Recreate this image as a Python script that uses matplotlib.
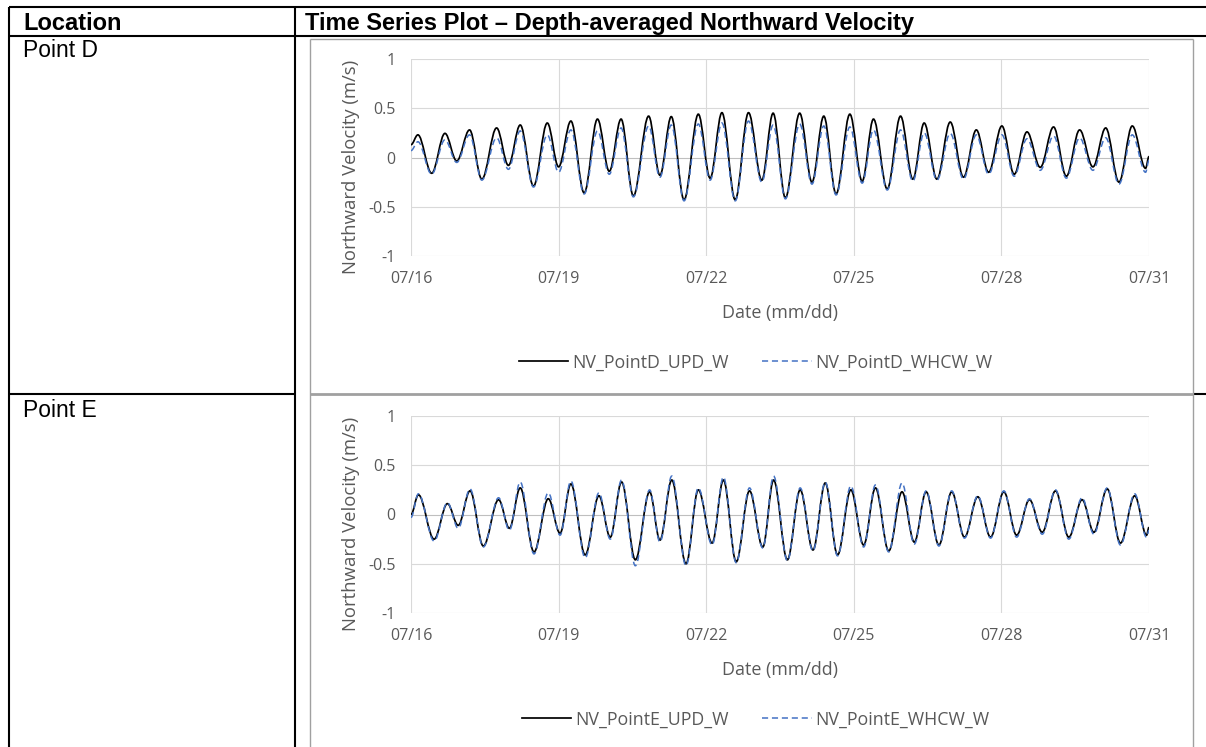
import matplotlib
matplotlib.use('Agg')
import matplotlib.pyplot as plt
from matplotlib.path import Path
from matplotlib.patches import PathPatch
from matplotlib.lines import Line2D

# ---- data (days since 07/16, depth-averaged northward velocity at turning points) ----
tick_days = [0, 3, 6, 9, 12, 15]
tick_labels = ['07/16', '07/19', '07/22', '07/25', '07/28', '07/31']
y_ticks = [-1, -0.5, 0, 0.5, 1]
y_labels = ['-1', '-0.5', '0', '0.5', '1']

d_time = [0.0, 0.14, 0.42, 0.69, 0.93, 1.19, 1.44, 1.74, 1.98, 2.22, 2.49, 2.77, 3.0, 3.25, 3.52,
          3.79, 4.03, 4.27, 4.52, 4.83, 5.06, 5.29, 5.55, 5.84, 6.08, 6.32, 6.59, 6.86, 7.13, 7.36,
          7.61, 7.90, 8.15, 8.39, 8.64, 8.92, 9.17, 9.40, 9.68, 9.95, 10.2, 10.43, 10.69, 10.96,
          11.23, 11.49, 11.74, 12.01, 12.26, 12.52, 12.79, 13.06, 13.32, 13.59, 13.86, 14.12,
          14.39, 14.66, 14.93, 15.0]
d_upd = [0.13, 0.23, -0.16, 0.245, -0.035, 0.28, -0.22, 0.30, -0.08, 0.33, -0.29, 0.35, -0.095,
         0.37, -0.36, 0.39, -0.14, 0.39, -0.39, 0.42, -0.18, 0.415, -0.43, 0.44, -0.21, 0.455,
         -0.43, 0.455, -0.23, 0.45, -0.41, 0.45, -0.25, 0.42, -0.37, 0.44, -0.24, 0.39, -0.32,
         0.42, -0.22, 0.35, -0.22, 0.36, -0.20, 0.28, -0.15, 0.32, -0.17, 0.26, -0.10, 0.31,
         -0.19, 0.28, -0.095, 0.30, -0.25, 0.32, -0.11, 0.01]
d_whcw = [0.07, 0.16, -0.17, 0.18, -0.05, 0.23, -0.23, 0.20, -0.12, 0.27, -0.30, 0.23, -0.15,
          0.28, -0.37, 0.27, -0.17, 0.30, -0.40, 0.32, -0.20, 0.33, -0.44, 0.34, -0.23, 0.35,
          -0.44, 0.37, -0.25, 0.33, -0.42, 0.34, -0.27, 0.32, -0.38, 0.31, -0.26, 0.28, -0.33,
          0.28, -0.24, 0.25, -0.23, 0.245, -0.22, 0.23, -0.17, 0.23, -0.19, 0.19, -0.13, 0.22,
          -0.21, 0.20, -0.13, 0.20, -0.27, 0.23, -0.15, -0.03]

e_time = [0.0, 0.15, 0.47, 0.74, 0.96, 1.2, 1.47, 1.78, 2.0, 2.22, 2.50, 2.79, 3.03, 3.25, 3.54,
          3.82, 4.05, 4.28, 4.56, 4.85, 5.06, 5.30, 5.59, 5.84, 6.12, 6.35, 6.61, 6.88, 7.15, 7.37,
          7.65, 7.91, 8.17, 8.42, 8.67, 8.94, 9.20, 9.44, 9.71, 9.98, 10.23, 10.47, 10.73, 10.99,
          11.25, 11.52, 11.78, 12.05, 12.31, 12.57, 12.83, 13.10, 13.37, 13.64, 13.88, 14.15,
          14.42, 14.71, 14.95, 15.0]
e_upd = [0.0, 0.20, -0.25, 0.11, -0.11, 0.24, -0.32, 0.15, -0.14, 0.27, -0.38, 0.16, -0.19,
         0.31, -0.41, 0.19, -0.23, 0.33, -0.46, 0.23, -0.26, 0.35, -0.50, 0.25, -0.29, 0.35,
         -0.48, 0.24, -0.33, 0.35, -0.46, 0.25, -0.36, 0.32, -0.41, 0.25, -0.31, 0.27, -0.37,
         0.23, -0.28, 0.23, -0.31, 0.23, -0.23, 0.18, -0.23, 0.23, -0.21, 0.15, -0.18, 0.24,
         -0.23, 0.15, -0.18, 0.26, -0.29, 0.19, -0.21, -0.13]
e_whcw = [-0.03, 0.21, -0.27, 0.12, -0.14, 0.26, -0.33, 0.17, -0.16, 0.33, -0.40, 0.22, -0.21,
          0.34, -0.44, 0.22, -0.25, 0.35, -0.52, 0.25, -0.28, 0.39, -0.52, 0.27, -0.31, 0.38,
          -0.49, 0.27, -0.34, 0.39, -0.47, 0.27, -0.37, 0.33, -0.42, 0.29, -0.33, 0.30, -0.38,
          0.32, -0.30, 0.24, -0.32, 0.24, -0.24, 0.19, -0.24, 0.24, -0.23, 0.16, -0.20, 0.25,
          -0.25, 0.17, -0.20, 0.27, -0.31, 0.21, -0.23, -0.16]

locations = ['Point D', 'Point E']
series_names = [('NV_PointD_UPD_W', 'NV_PointD_WHCW_W'), ('NV_PointE_UPD_W', 'NV_PointE_WHCW_W')]

BLUE = '#4472C4'
GREY_TXT = '#595959'
W, H = 1206, 747
DASH = (0, (4, 2.5))


def smooth_path(t, v, k=0.36):
    # smoothed line through the turning points (like Excel's smoothed line)
    verts = [(t[0], v[0])]
    codes = [Path.MOVETO]
    for i in range(len(t) - 1):
        dt = t[i + 1] - t[i]
        verts += [(t[i] + k * dt, v[i]), (t[i + 1] - k * dt, v[i + 1]), (t[i + 1], v[i + 1])]
        codes += [Path.CURVE4] * 3
    return Path(verts, codes)


def make_chart(ax, t, upd, whcw, names):
    for y in y_ticks:
        ax.axhline(y, color='#bfbfbf' if y == 0 else '#d9d9d9', lw=0.8, zorder=1)
    for x in tick_days:
        ax.axvline(x, color='#d9d9d9', lw=0.8, zorder=1)
    ax.add_patch(PathPatch(smooth_path(t, upd), fill=False, edgecolor='black', lw=1.25, zorder=3))
    ax.add_patch(PathPatch(smooth_path(t, whcw), fill=False, edgecolor=BLUE, lw=1.1,
                           linestyle=DASH, zorder=4))
    ax.set_xlim(0, 15)
    ax.set_ylim(-1, 1)
    ax.set_xticks(tick_days)
    ax.set_xticklabels(tick_labels)
    ax.set_yticks(y_ticks)
    ax.set_yticklabels(y_labels)
    ax.tick_params(length=0, colors=GREY_TXT, labelsize=11.5)
    ax.tick_params(axis='y', pad=11)
    ax.tick_params(axis='x', pad=11)
    for s in ax.spines.values():
        s.set_visible(False)
    ax.set_ylabel('Northward Velocity (m/s)', color=GREY_TXT, fontsize=13.3)
    ax.yaxis.set_label_coords(-0.069, 0.45)
    ax.text(0.5, -0.29, 'Date (mm/dd)', transform=ax.transAxes, ha='center', va='center',
            color=GREY_TXT, fontsize=12.9)
    handles = [Line2D([], [], color='black', lw=1.25),
               Line2D([], [], color=BLUE, lw=1.1, linestyle=DASH)]
    ax.legend(handles, list(names), loc='center', bbox_to_anchor=(0.467, -0.54), ncol=2,
              frameon=False, fontsize=12.8, handlelength=2.8, handletextpad=0.2,
              columnspacing=1.9, labelcolor=GREY_TXT)


plt.rcParams['font.family'] = ['Open Sans', 'DejaVu Sans']
fig = plt.figure(figsize=(W / 100, H / 100), dpi=100)

# table drawn in pixel coordinates
bg = fig.add_axes([0, 0, 1, 1], zorder=-1)
bg.set_xlim(0, W)
bg.set_ylim(H, 0)
bg.axis('off')
lk = dict(color='black', lw=1.5, solid_capstyle='butt')
bg.plot([9, W], [7, 7], **lk)
bg.plot([9, W], [36, 36], **lk)
bg.plot([9, 9], [7, H], **lk)
bg.plot([295, 295], [7, H], **lk)
bg.plot([9, 295], [394, 394], **lk)
bg.plot([1194, W], [394, 394], **lk)
gk = dict(color='#a0a0a0', lw=1.0, solid_capstyle='butt')
bg.plot([309.5, 1193], [38.5, 38.5], **gk)
bg.plot([309.5, 309.5], [38.5, H], **gk)
bg.plot([1193, 1193], [38.5, H], **gk)
bg.plot([309.5, 1193], [394, 394], color='#a0a0a0', lw=2.0, solid_capstyle='butt')

hdr = ['Liberation Sans', 'DejaVu Sans']
fig.text(23 / W, 1 - 30 / H, 'Location', family=hdr, weight='bold', fontsize=17, va='baseline')
fig.text(305 / W, 1 - 30 / H, 'Time Series Plot \u2013 Depth-averaged Northward Velocity',
         family=hdr, weight='bold', fontsize=17, va='baseline')
fig.text(23 / W, 1 - 56.7 / H, locations[0], family=hdr, fontsize=16.5, va='baseline')
fig.text(23 / W, 1 - 416.7 / H, locations[1], family=hdr, fontsize=16.5, va='baseline')

ax_d = fig.add_axes([411 / W, 1 - 256 / H, 738 / W, 197 / H])
make_chart(ax_d, d_time, d_upd, d_whcw, series_names[0])
ax_e = fig.add_axes([411 / W, 1 - 613 / H, 738 / W, 197 / H])
make_chart(ax_e, e_time, e_upd, e_whcw, series_names[1])

fig.savefig('out.png', dpi=100)
